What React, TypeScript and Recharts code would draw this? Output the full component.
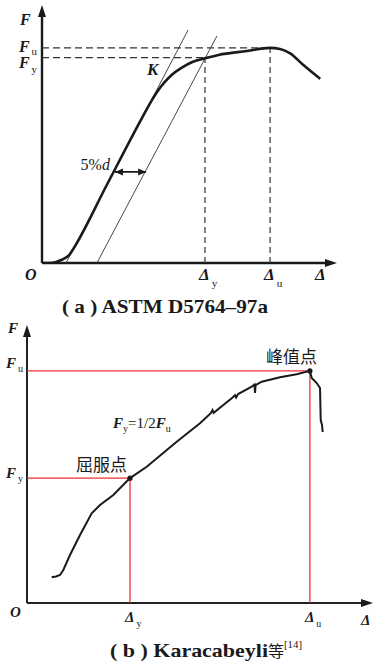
import React from 'react';
import { LineChart, Line, XAxis, YAxis, ReferenceLine, ReferenceDot } from 'recharts';

const SERIF = '"Liberation Serif", "DejaVu Serif", serif';
const CJK = '"Noto Sans CJK SC", sans-serif';
const INK = '#1a1a1a';
const RED = '#e8322f';

// (a) ASTM D5764-97a  -- displacement / load, 0..100 units
const astmDisp = [0, 3, 6.33, 9.1, 10.2, 21.5, 33.2, 36, 38.8, 41, 43.2, 46.6, 49.9, 54.3, 58.8, 68.3, 76, 79.3, 82.7, 87, 92.7];
const astmForce = [0, 0, 1.15, 3.1, 5, 29.8, 55.5, 61.4, 66.5, 69.7, 72.3, 75.1, 77.2, 78.7, 80, 81.5, 82.7, 82.3, 80.6, 76.2, 70.8];
const kLineDisp = [8, 48.7];
const kLineForce = [0, 89.6];
const offsetDisp = [18.3, 58.3];
const offsetForce = [0, 87.3];
const astmYield = { d: 54.3, f: 79 };
const astmPeak = { d: 76, f: 82.7 };
const fivePct = { from: 24.3, to: 34.7, f: 35 };
const astmXTicks = [astmYield.d, astmPeak.d];
const astmYTicks = [astmYield.f, astmPeak.f];
const tickSubs = ['y', 'u'];

// (b) Karacabeyli et al.
const karaDisp = [7.26, 8.53, 9.71, 10.68, 12.65, 15.59, 19.03, 21.47, 25.38, 30.3, 35.21, 44.03, 50.88, 54.12, 54.56, 54.9, 57.74, 60.21, 61.2, 61.5, 62.09, 66.09, 66.9, 67.06, 67.24, 69.03, 74.41, 79.32, 83.2, 83.74, 85.21, 86.18, 86.38, 86.76, 86.97];
const karaForce = [9.18, 9.46, 10, 11.79, 17.14, 24.29, 32.04, 35, 38.57, 44.6, 48.68, 57.61, 64.18, 67.86, 68.9, 67.9, 70.71, 73.11, 74.2, 73.4, 74.64, 77.25, 78.04, 75, 77.86, 79.04, 80.61, 81.68, 82.9, 80.36, 78.57, 76.79, 65.36, 63.57, 61.07];
const karaYield = { d: 30.3, f: 44.6 };
const karaPeak = { d: 83.2, f: 82.9 };
const karaXTicks = [karaYield.d, karaPeak.d];
const karaYTicks = [karaYield.f, karaPeak.f];

const zip = (xs: number[], ys: number[]) => xs.map((d, i) => ({ d, f: ys[i] }));
const astmData = zip(astmDisp, astmForce);
const kData = zip(kLineDisp, kLineForce);
const offData = zip(offsetDisp, offsetForce);
const karaData = zip(karaDisp, karaForce);

const arrowUp = (p: any) => <path d={`M${p.cx},${p.cy} l-4,12 l8,0 z`} fill={INK} />;
const arrowRight = (p: any) => <path d={`M${p.cx},${p.cy} l-12,-4 l0,8 z`} fill={INK} />;
const arrowLeftSmall = (p: any) => <path d={`M${p.cx},${p.cy} l8,-3.5 l0,7 z`} fill={INK} />;
const arrowRightSmall = (p: any) => <path d={`M${p.cx},${p.cy} l-8,-3.5 l0,7 z`} fill={INK} />;
const dot = (p: any) => <circle cx={p.cx} cy={p.cy} r={2.6} fill={INK} />;

const label = (dx: number, dy: number, content: React.ReactNode, anchor = 'start', font = SERIF, size = 16) =>
  (p: any) => (
    <text x={p.cx + dx} y={p.cy + dy} textAnchor={anchor} fontFamily={font} fontSize={size} fill={INK}>
      {content}
    </text>
  );

const bi = { fontWeight: 'bold', fontStyle: 'italic' } as const;

// F with subscript, right aligned
const yTick = (size: number, dyList: number[], subDyList: number[], dx: number) => (p: any) => (
  <text x={p.x + dx} y={p.y + dyList[p.index]} textAnchor="end" fontFamily={SERIF} fill={INK}>
    <tspan fontSize={size} {...bi}>F</tspan>
    <tspan fontSize={size * 0.68} dx={2} dy={subDyList[p.index]}>{tickSubs[p.index]}</tspan>
  </text>
);
const xTick = (size: number, dy: number, dx: number, subDy: number) => (p: any) => (
  <text x={p.x + dx} y={p.y + dy} textAnchor="start" fontFamily={SERIF} fill={INK}>
    <tspan fontSize={size} {...bi}>Δ</tspan>
    <tspan fontSize={size * 0.66} dx={2} dy={subDy}>{tickSubs[p.index]}</tspan>
  </text>
);

const AstmChart = () => (
  <LineChart width={374} height={300} margin={{ top: 5, right: 37, bottom: 36, left: 41 }} style={{ position: 'absolute', left: 0, top: 0 }}>
    <XAxis type="number" dataKey="d" domain={[0, 98.3]} ticks={astmXTicks} interval={0} height={1} tickSize={0} tickMargin={0}
      axisLine={false} tickLine={false} tick={xTick(17, 17, -6, 7)} allowDataOverflow />
    <YAxis type="number" dataKey="f" domain={[0, 99.2]} ticks={astmYTicks} interval={0} width={1} tickSize={0} tickMargin={0}
      axisLine={false} tickLine={false} tick={yTick(16, [10, 4], [5, 3], -5)} allowDataOverflow />
    <ReferenceLine segment={[{ x: 0, y: 0 }, { x: 96, y: 0 }]} stroke={INK} strokeWidth={2.4} ifOverflow="visible" />
    <ReferenceLine segment={[{ x: 0, y: 0 }, { x: 0, y: 96 }]} stroke={INK} strokeWidth={2.4} ifOverflow="visible" />
    <ReferenceLine segment={[{ x: 0, y: astmPeak.f }, { x: astmPeak.d, y: astmPeak.f }]} stroke="#333" strokeWidth={1.2} strokeDasharray="7 4" ifOverflow="visible" />
    <ReferenceLine segment={[{ x: 0, y: astmYield.f }, { x: astmYield.d, y: astmYield.f }]} stroke="#333" strokeWidth={1.2} strokeDasharray="7 4" ifOverflow="visible" />
    <ReferenceLine segment={[{ x: astmYield.d, y: 0 }, { x: astmYield.d, y: astmYield.f }]} stroke="#333" strokeWidth={1.2} strokeDasharray="6 4" ifOverflow="visible" />
    <ReferenceLine segment={[{ x: astmPeak.d, y: 0 }, { x: astmPeak.d, y: astmPeak.f }]} stroke="#333" strokeWidth={1.2} strokeDasharray="6 4" ifOverflow="visible" />
    <ReferenceLine segment={[{ x: fivePct.from, y: fivePct.f }, { x: fivePct.to, y: fivePct.f }]} stroke={INK} strokeWidth={1.8} ifOverflow="visible" />
    <Line data={kData} dataKey="f" type="linear" stroke="#333" strokeWidth={0.9} dot={false} isAnimationActive={false} />
    <Line data={offData} dataKey="f" type="linear" stroke="#333" strokeWidth={0.9} dot={false} isAnimationActive={false} />
    <Line data={astmData} dataKey="f" type="monotone" stroke={INK} strokeWidth={2.6} dot={false} isAnimationActive={false} />
    <ReferenceDot x={fivePct.from} y={fivePct.f} shape={arrowLeftSmall} ifOverflow="visible" />
    <ReferenceDot x={fivePct.to} y={fivePct.f} shape={arrowRightSmall} ifOverflow="visible" />
    <ReferenceDot x={fivePct.from} y={fivePct.f} ifOverflow="visible"
      shape={label(-5, -2, <><tspan>5%</tspan><tspan fontStyle="italic">d</tspan></>, 'end', SERIF, 16)} />
    <ReferenceDot x={35} y={72.3} ifOverflow="visible" shape={label(0, 0, <tspan {...bi}>K</tspan>, 'start', SERIF, 17)} />
    <ReferenceDot x={0} y={99.2} ifOverflow="visible" shape={arrowUp} />
    <ReferenceDot x={98.3} y={0} ifOverflow="visible" shape={arrowRight} />
    <ReferenceDot x={0} y={99.2} ifOverflow="visible" shape={label(-22, 20, <tspan {...bi}>F</tspan>)} />
    <ReferenceDot x={0} y={0} ifOverflow="visible" shape={label(-17, 17, <tspan {...bi}>O</tspan>)} />
    <ReferenceDot x={98.3} y={0} ifOverflow="visible" shape={label(-22, 17, <tspan {...bi}>Δ</tspan>, 'start', SERIF, 17)} />
  </LineChart>
);

const KaraChart = () => (
  <LineChart width={374} height={330} margin={{ top: 15, right: 1, bottom: 36, left: 26 }} style={{ position: 'absolute', left: 0, top: 310 }}>
    <XAxis type="number" dataKey="d" domain={[0, 101.76]} ticks={karaXTicks} interval={0} height={1} tickSize={0} tickMargin={0}
      axisLine={false} tickLine={false} tick={xTick(15, 19, -5, 5)} allowDataOverflow />
    <YAxis type="number" dataKey="f" domain={[0, 99.29]} ticks={karaYTicks} interval={0} width={1} tickSize={0} tickMargin={0}
      axisLine={false} tickLine={false} tick={yTick(15, [0, -3], [4, 4], -4)} allowDataOverflow />
    <ReferenceLine segment={[{ x: 0, y: 0 }, { x: 99, y: 0 }]} stroke="#222" strokeWidth={2} ifOverflow="visible" />
    <ReferenceLine segment={[{ x: 0, y: 0 }, { x: 0, y: 96 }]} stroke="#222" strokeWidth={2} ifOverflow="visible" />
    <ReferenceLine segment={[{ x: 0, y: karaPeak.f }, { x: karaPeak.d, y: karaPeak.f }]} stroke={RED} strokeWidth={1.3} ifOverflow="visible" />
    <ReferenceLine segment={[{ x: karaPeak.d, y: 0 }, { x: karaPeak.d, y: karaPeak.f }]} stroke={RED} strokeWidth={1.3} ifOverflow="visible" />
    <ReferenceLine segment={[{ x: 0, y: karaYield.f }, { x: karaYield.d, y: karaYield.f }]} stroke={RED} strokeWidth={1.3} ifOverflow="visible" />
    <ReferenceLine segment={[{ x: karaYield.d, y: 0 }, { x: karaYield.d, y: karaYield.f }]} stroke={RED} strokeWidth={1.3} ifOverflow="visible" />
    <Line data={karaData} dataKey="f" type="linear" stroke={INK} strokeWidth={2} dot={false} isAnimationActive={false} />
    <ReferenceDot x={karaYield.d} y={karaYield.f} shape={dot} ifOverflow="visible" />
    <ReferenceDot x={karaPeak.d} y={karaPeak.f} shape={dot} ifOverflow="visible" />
    <ReferenceDot x={karaPeak.d} y={karaPeak.f} ifOverflow="visible" shape={label(7, -8, '峰值点', 'end', CJK, 17)} />
    <ReferenceDot x={karaYield.d} y={karaYield.f} ifOverflow="visible" shape={label(-3, -7, '屈服点', 'end', CJK, 17)} />
    <ReferenceDot x={25.3} y={62.5} ifOverflow="visible"
      shape={label(0, 0, <>
        <tspan {...bi}>F</tspan><tspan fontSize={10} dy={4}>y</tspan>
        <tspan dy={-4}>=1/2</tspan><tspan {...bi}>F</tspan><tspan fontSize={10} dy={4}>u</tspan>
      </>, 'start', SERIF, 15)} />
    <ReferenceDot x={0} y={99.29} ifOverflow="visible" shape={arrowUp} />
    <ReferenceDot x={101.76} y={0} ifOverflow="visible" shape={arrowRight} />
    <ReferenceDot x={0} y={99.29} ifOverflow="visible" shape={label(-19, 8, <tspan {...bi}>F</tspan>, 'start', SERIF, 15)} />
    <ReferenceDot x={0} y={0} ifOverflow="visible" shape={label(-17, 14, <tspan {...bi}>O</tspan>, 'start', SERIF, 15)} />
    <ReferenceDot x={101.76} y={0} ifOverflow="visible" shape={label(-12, 22, <tspan {...bi}>Δ</tspan>, 'start', SERIF, 15)} />
  </LineChart>
);

export default function App() {
  return (
    <div style={{ position: 'absolute', left: 0, top: 0, width: 374, height: 668, background: '#fff', overflow: 'hidden' }}>
      <AstmChart />
      <KaraChart />
      <svg width={374} height={668} style={{ position: 'absolute', left: 0, top: 0, pointerEvents: 'none' }}>
        <text x={62} y={313} fontFamily={SERIF} fontWeight="bold" fontSize={19} fill={INK} textLength={206} lengthAdjust="spacingAndGlyphs">
          ( a ) ASTM D5764–97a
        </text>
        <text x={110} y={657} fontFamily={SERIF} fontWeight="bold" fontSize={19} fill={INK} textLength={158} lengthAdjust="spacingAndGlyphs">
          ( b ) Karacabeyli
        </text>
        <text x={268} y={657} fontFamily={CJK} fontSize={16} fill={INK}>等</text>
        <text x={284} y={648} fontFamily={SERIF} fontSize={10} fill={INK} textLength={18} lengthAdjust="spacingAndGlyphs">[14]</text>
      </svg>
    </div>
  );
}
